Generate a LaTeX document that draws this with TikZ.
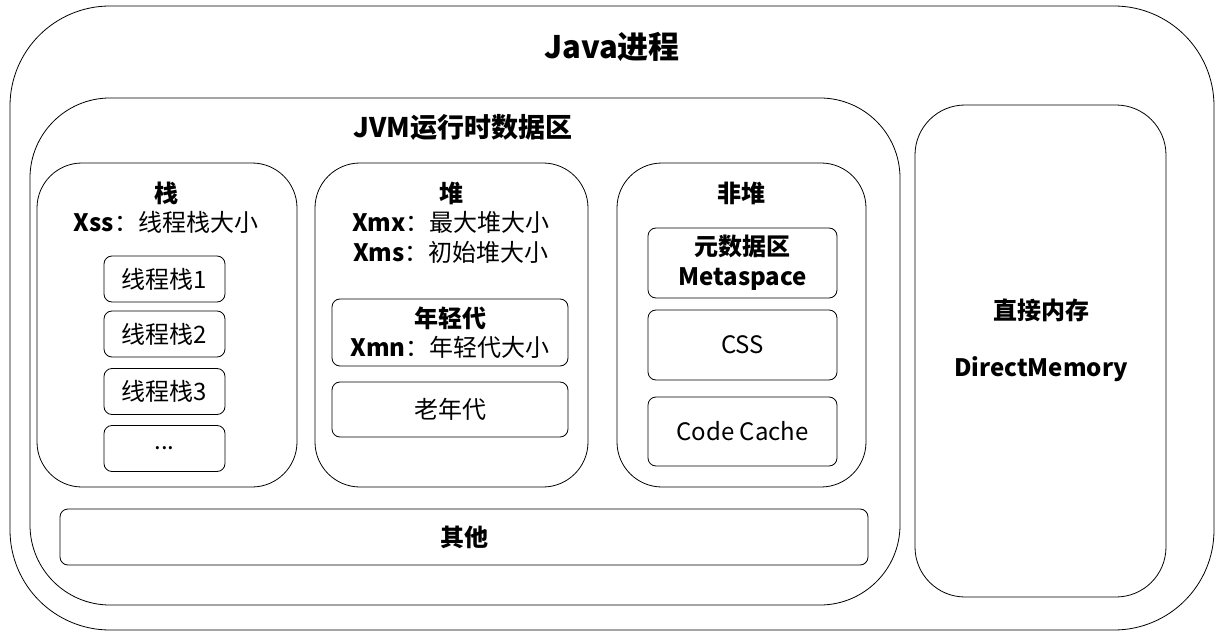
\documentclass[tikz,border=0pt]{standalone}
\usepackage{fontspec}
\setmainfont{Noto Sans CJK SC}
\usetikzlibrary{positioning}
\tikzset{
  area/.style={draw, line width=0.8pt, inner sep=0pt},
  cell/.style={area, rounded corners=8pt, font=\fontsize{24}{29.5}\selectfont, align=center},
  caption/.style={font=\fontsize{24}{29.5}\selectfont\bfseries, align=center},
}

\begin{document}
\begin{tikzpicture}[x=1pt, y=-1pt]
			%%%%% START %%%%%
			\useasboundingbox (0, 0) rectangle (1224, 639);
			
			\node[area, rounded corners=100pt, minimum width=1204pt, minimum height=624pt] (proc) at (612, 318) {};
			\node[caption, font=\fontsize{31}{34}\selectfont\bfseries] (proctitle) at (612, 47) {Java进程};
			
			\node[area, rounded corners=80pt, minimum width=870pt, minimum height=507pt] (jvm) at (465, 351.5) {};
			\node[caption, font=\fontsize{27}{30}\selectfont\bfseries] (jvmtitle) at (463, 127) {JVM运行时数据区};
			
			% stack
			\node[area, rounded corners=45pt, minimum width=260pt, minimum height=324pt] (stack) at (167, 325) {};
			\node[caption] (stacktitle) at (166, 207.5) {栈\\Xss\mdseries：线程栈大小};
			\node[cell, minimum width=121pt, minimum height=46pt] (ts1) at (164.5, 279) {线程栈1};
			\node[cell, minimum width=121pt, minimum height=46pt] (ts2) at (164.5, 334) {线程栈2};
			\node[cell, minimum width=121pt, minimum height=46pt] (ts3) at (164.5, 391.5) {线程栈3};
			\node[cell, minimum width=121pt, minimum height=46pt] (tsn) at (164.5, 448.5) {...};
			
			% heap
			\node[area, rounded corners=45pt, minimum width=273pt, minimum height=324pt] (heap) at (451.5, 325) {};
			\node[caption] (heaptitle) at (451, 222.5) {堆\\Xmx\mdseries：最大堆大小\\\bfseries Xms\mdseries：初始堆大小};
			\node[cell, minimum width=236pt, minimum height=67pt] (young) at (450, 332.5) {};
			\node[caption] (youngtitle) at (450, 332.5) {年轻代\\Xmn\mdseries：年轻代大小};
			\node[cell, minimum width=236pt, minimum height=55pt] (old) at (450, 409.5) {老年代};
			
			% non-heap
			\node[area, rounded corners=45pt, minimum width=249pt, minimum height=324pt] (nonheap) at (741.5, 325) {};
			\node[caption] (nonheaptitle) at (741, 193) {非堆};
			\node[cell, minimum width=189pt, minimum height=70pt, font=\fontsize{24}{30}\selectfont\bfseries] (meta) at (742.5, 263) {元数据区\\Metaspace};
			\node[cell, minimum width=189pt, minimum height=70pt] (css) at (742.5, 345) {CSS};
			\node[cell, minimum width=189pt, minimum height=69pt] (codecache) at (742.5, 431.5) {Code Cache};
			
			\node[cell, minimum width=808pt, minimum height=56pt, font=\fontsize{24}{29.5}\selectfont\bfseries] (other) at (464, 537) {其他};
			
			% direct memory
			\node[area, rounded corners=50pt, minimum width=251pt, minimum height=492pt] (direct) at (1040.5, 351) {};
			\node[caption] (directtitle) at (1041, 310) {直接内存};
			\node[caption] (directname) at (1041, 369) {DirectMemory};
			%%%%% END %%%%%
\end{tikzpicture}
\end{document}
